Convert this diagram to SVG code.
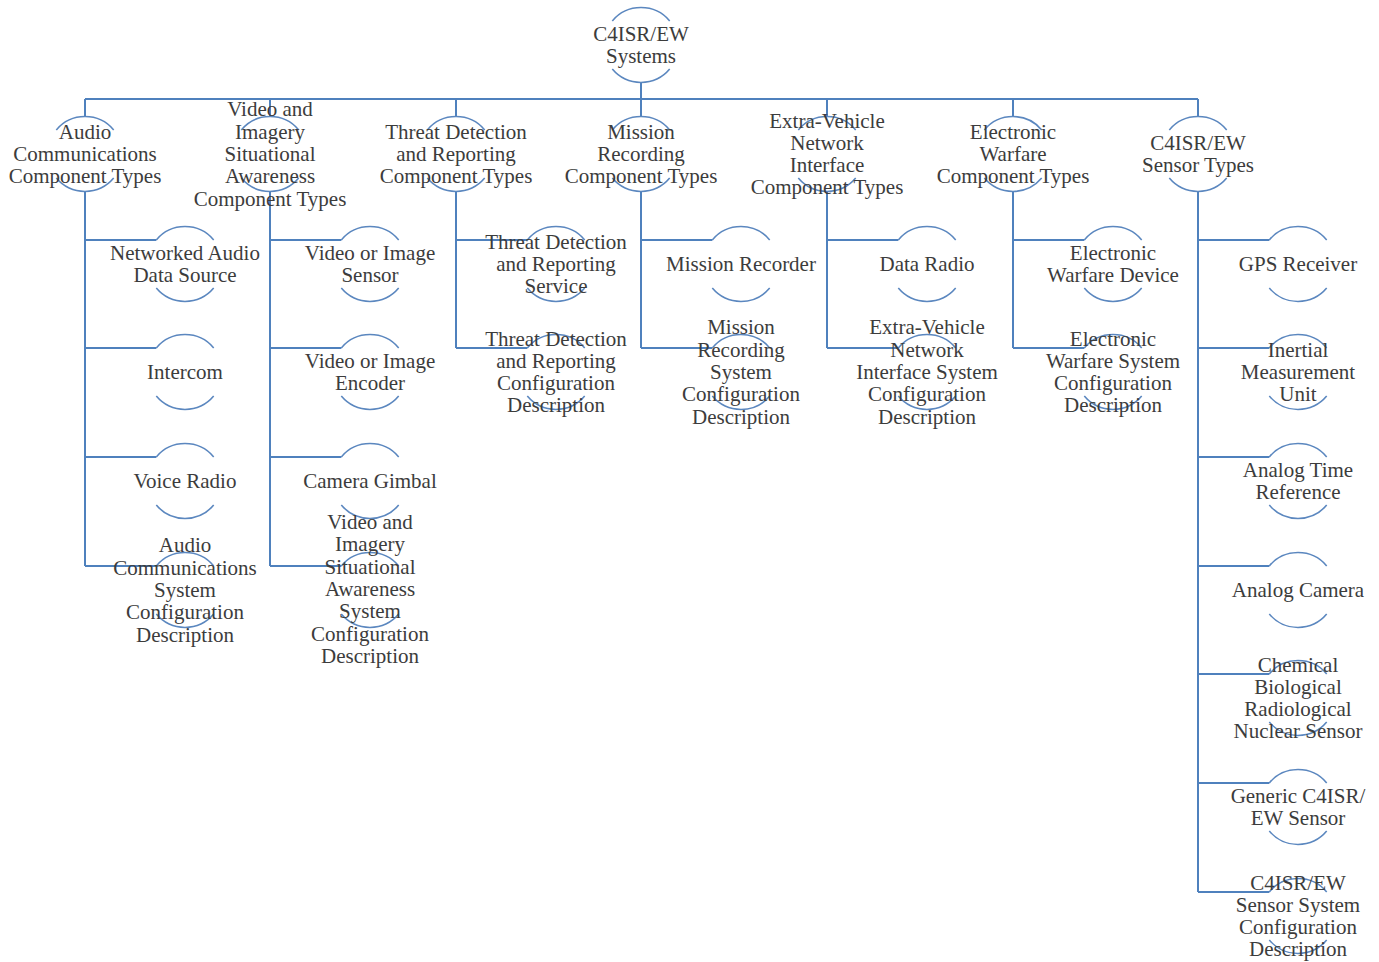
<svg xmlns="http://www.w3.org/2000/svg" xmlns:xlink="http://www.w3.org/1999/xlink" width="1379" height="962" viewBox="0 0 1379 962">
<style>
.c{fill:none;stroke:#4f81bd;stroke-width:2}
.a{fill:none;stroke:#5b87bf;stroke-width:1.6}
.t{font-family:"Liberation Serif","Times New Roman",serif;font-size:21px;fill:#3c3c3c;text-anchor:middle}
</style>
<defs>
<path id="arc" class="a" d="M-28.7 -24.1 A37.5 37.5 0 0 1 28.7 -24.1 M-28.7 24.1 A37.5 37.5 0 0 0 28.7 24.1"/>
</defs>
<rect width="1379" height="962" fill="#ffffff"/>
<g id="connectors" class="c">
<path d="M641 82.5V99M85 99H1198"/>
<path d="M85 99V116.5M270 99V116.5M456 99V116.5M641 99V116.5M827 99V116.5M1013 99V116.5M1198 99V116.5"/>
<path d="M85 191.5V566M85 240H156.3M85 348H156.3M85 457H156.3M85 566H156.3"/>
<path d="M270 191.5V566M270 240H341.3M270 348H341.3M270 457H341.3M270 566H341.3"/>
<path d="M456 191.5V348M456 240H527.3M456 348H527.3"/>
<path d="M641 191.5V348M641 240H712.3M641 348H712.3"/>
<path d="M827 191.5V348M827 240H898.3M827 348H898.3"/>
<path d="M1013 191.5V348M1013 240H1084.3M1013 348H1084.3"/>
<path d="M1198 191.5V892M1198 240H1269.3M1198 348H1269.3M1198 457H1269.3M1198 566H1269.3M1198 674H1269.3M1198 783H1269.3M1198 892H1269.3"/>
</g>
<g id="root"><use xlink:href="#arc" href="#arc" x="641" y="45"/><text class="t" y="40.85"><tspan x="641">C4ISR/EW</tspan><tspan x="641" dy="22.3">Systems</tspan></text></g>

<g id="audio"><use xlink:href="#arc" href="#arc" x="85" y="154"/><text class="t" y="138.7"><tspan x="85">Audio</tspan><tspan x="85" dy="22.3">Communications</tspan><tspan x="85" dy="22.3">Component Types</tspan></text></g>
<g id="video"><use xlink:href="#arc" href="#arc" x="270" y="154"/><text class="t" y="116.4"><tspan x="270">Video and</tspan><tspan x="270" dy="22.3">Imagery</tspan><tspan x="270" dy="22.3">Situational</tspan><tspan x="270" dy="22.3">Awareness</tspan><tspan x="270" dy="22.3">Component Types</tspan></text></g>
<g id="threat"><use xlink:href="#arc" href="#arc" x="456" y="154"/><text class="t" y="138.7"><tspan x="456">Threat Detection</tspan><tspan x="456" dy="22.3">and Reporting</tspan><tspan x="456" dy="22.3">Component Types</tspan></text></g>
<g id="mission"><use xlink:href="#arc" href="#arc" x="641" y="154"/><text class="t" y="138.7"><tspan x="641">Mission</tspan><tspan x="641" dy="22.3">Recording</tspan><tspan x="641" dy="22.3">Component Types</tspan></text></g>
<g id="extra"><use xlink:href="#arc" href="#arc" x="827" y="154"/><text class="t" y="127.55"><tspan x="827">Extra-Vehicle</tspan><tspan x="827" dy="22.3">Network</tspan><tspan x="827" dy="22.3">Interface</tspan><tspan x="827" dy="22.3">Component Types</tspan></text></g>
<g id="ew"><use xlink:href="#arc" href="#arc" x="1013" y="154"/><text class="t" y="138.7"><tspan x="1013">Electronic</tspan><tspan x="1013" dy="22.3">Warfare</tspan><tspan x="1013" dy="22.3">Component Types</tspan></text></g>
<g id="sensor"><use xlink:href="#arc" href="#arc" x="1198" y="154"/><text class="t" y="149.85"><tspan x="1198">C4ISR/EW</tspan><tspan x="1198" dy="22.3">Sensor Types</tspan></text></g>

<g id="netaudio"><use xlink:href="#arc" href="#arc" x="185" y="264"/><text class="t" y="259.85"><tspan x="185">Networked Audio</tspan><tspan x="185" dy="22.3">Data Source</tspan></text></g>
<g id="intercom"><use xlink:href="#arc" href="#arc" x="185" y="372"/><text class="t" x="185" y="379">Intercom</text></g>
<g id="voiceradio"><use xlink:href="#arc" href="#arc" x="185" y="481"/><text class="t" x="185" y="488">Voice Radio</text></g>
<g id="audioconfig"><use xlink:href="#arc" href="#arc" x="185" y="590"/><text class="t" y="552.4"><tspan x="185">Audio</tspan><tspan x="185" dy="22.3">Communications</tspan><tspan x="185" dy="22.3">System</tspan><tspan x="185" dy="22.3">Configuration</tspan><tspan x="185" dy="22.3">Description</tspan></text></g>

<g id="vidsensor"><use xlink:href="#arc" href="#arc" x="370" y="264"/><text class="t" y="259.85"><tspan x="370">Video or Image</tspan><tspan x="370" dy="22.3">Sensor</tspan></text></g>
<g id="videncoder"><use xlink:href="#arc" href="#arc" x="370" y="372"/><text class="t" y="367.85"><tspan x="370">Video or Image</tspan><tspan x="370" dy="22.3">Encoder</tspan></text></g>
<g id="gimbal"><use xlink:href="#arc" href="#arc" x="370" y="481"/><text class="t" x="370" y="488">Camera Gimbal</text></g>
<g id="videoconfig"><use xlink:href="#arc" href="#arc" x="370" y="590"/><text class="t" y="529"><tspan x="370">Video and</tspan><tspan x="370" dy="22.3">Imagery</tspan><tspan x="370" dy="22.3">Situational</tspan><tspan x="370" dy="22.3">Awareness</tspan><tspan x="370" dy="22.3">System</tspan><tspan x="370" dy="22.3">Configuration</tspan><tspan x="370" dy="22.3">Description</tspan></text></g>

<g id="threatservice"><use xlink:href="#arc" href="#arc" x="556" y="264"/><text class="t" y="248.7"><tspan x="556">Threat Detection</tspan><tspan x="556" dy="22.3">and Reporting</tspan><tspan x="556" dy="22.3">Service</tspan></text></g>
<g id="threatconfig"><use xlink:href="#arc" href="#arc" x="556" y="372"/><text class="t" y="345.55"><tspan x="556">Threat Detection</tspan><tspan x="556" dy="22.3">and Reporting</tspan><tspan x="556" dy="22.3">Configuration</tspan><tspan x="556" dy="22.3">Description</tspan></text></g>

<g id="recorder"><use xlink:href="#arc" href="#arc" x="741" y="264"/><text class="t" x="741" y="271">Mission Recorder</text></g>
<g id="missionconfig"><use xlink:href="#arc" href="#arc" x="741" y="372"/><text class="t" y="334.4"><tspan x="741">Mission</tspan><tspan x="741" dy="22.3">Recording</tspan><tspan x="741" dy="22.3">System</tspan><tspan x="741" dy="22.3">Configuration</tspan><tspan x="741" dy="22.3">Description</tspan></text></g>

<g id="dataradio"><use xlink:href="#arc" href="#arc" x="927" y="264"/><text class="t" x="927" y="271">Data Radio</text></g>
<g id="extraconfig"><use xlink:href="#arc" href="#arc" x="927" y="372"/><text class="t" y="334.4"><tspan x="927">Extra-Vehicle</tspan><tspan x="927" dy="22.3">Network</tspan><tspan x="927" dy="22.3">Interface System</tspan><tspan x="927" dy="22.3">Configuration</tspan><tspan x="927" dy="22.3">Description</tspan></text></g>

<g id="ewdevice"><use xlink:href="#arc" href="#arc" x="1113" y="264"/><text class="t" y="259.85"><tspan x="1113">Electronic</tspan><tspan x="1113" dy="22.3">Warfare Device</tspan></text></g>
<g id="ewconfig"><use xlink:href="#arc" href="#arc" x="1113" y="372"/><text class="t" y="345.55"><tspan x="1113">Electronic</tspan><tspan x="1113" dy="22.3">Warfare System</tspan><tspan x="1113" dy="22.3">Configuration</tspan><tspan x="1113" dy="22.3">Description</tspan></text></g>

<g id="gps"><use xlink:href="#arc" href="#arc" x="1298" y="264"/><text class="t" x="1298" y="271">GPS Receiver</text></g>
<g id="imu"><use xlink:href="#arc" href="#arc" x="1298" y="372"/><text class="t" y="356.7"><tspan x="1298">Inertial</tspan><tspan x="1298" dy="22.3">Measurement</tspan><tspan x="1298" dy="22.3">Unit</tspan></text></g>
<g id="timeref"><use xlink:href="#arc" href="#arc" x="1298" y="481"/><text class="t" y="476.85"><tspan x="1298">Analog Time</tspan><tspan x="1298" dy="22.3">Reference</tspan></text></g>
<g id="analogcam"><use xlink:href="#arc" href="#arc" x="1298" y="590"/><text class="t" x="1298" y="597">Analog Camera</text></g>
<g id="cbrn"><use xlink:href="#arc" href="#arc" x="1298" y="698"/><text class="t" y="671.55"><tspan x="1298">Chemical</tspan><tspan x="1298" dy="22.3">Biological</tspan><tspan x="1298" dy="22.3">Radiological</tspan><tspan x="1298" dy="22.3">Nuclear Sensor</tspan></text></g>
<g id="generic"><use xlink:href="#arc" href="#arc" x="1298" y="807"/><text class="t" y="802.85"><tspan x="1298">Generic C4ISR/</tspan><tspan x="1298" dy="22.3">EW Sensor</tspan></text></g>
<g id="sensorconfig"><use xlink:href="#arc" href="#arc" x="1298" y="916"/><text class="t" y="889.55"><tspan x="1298">C4ISR/EW</tspan><tspan x="1298" dy="22.3">Sensor System</tspan><tspan x="1298" dy="22.3">Configuration</tspan><tspan x="1298" dy="22.3">Description</tspan></text></g>
</svg>
